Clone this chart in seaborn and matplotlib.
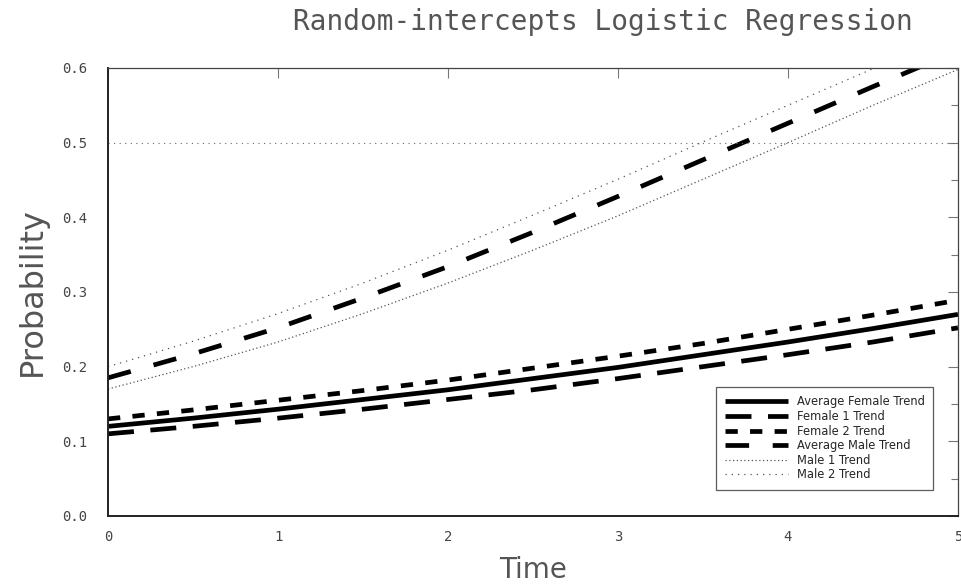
import numpy as np
import pandas as pd
import matplotlib
matplotlib.use("Agg")
import matplotlib.pyplot as plt
import seaborn as sns
from matplotlib.ticker import MultipleLocator

# Fitted probabilities at half-unit time steps
time = [0, 0.5, 1, 1.5, 2, 2.5, 3, 3.5, 4, 4.5, 5]
avg_female = [0.120, 0.131, 0.143, 0.156, 0.169, 0.184, 0.199, 0.216, 0.233, 0.251, 0.270]
female_1 = [0.110, 0.120, 0.131, 0.143, 0.156, 0.169, 0.184, 0.200, 0.216, 0.233, 0.252]
female_2 = [0.130, 0.142, 0.155, 0.168, 0.182, 0.198, 0.214, 0.231, 0.250, 0.269, 0.289]
avg_male = [0.185, 0.217, 0.252, 0.292, 0.334, 0.380, 0.428, 0.477, 0.526, 0.575, 0.623]
male_1 = [0.170, 0.200, 0.233, 0.271, 0.312, 0.356, 0.402, 0.451, 0.500, 0.550, 0.598]
male_2 = [0.200, 0.234, 0.271, 0.312, 0.356, 0.403, 0.451, 0.501, 0.550, 0.599, 0.646]
ref_x = [0, 5]
ref_y = [0.5, 0.5]

labels = ["Average Female Trend", "Female 1 Trend", "Female 2 Trend",
          "Average Male Trend", "Male 1 Trend", "Male 2 Trend"]
series = [avg_female, female_1, female_2, avg_male, male_1, male_2]

styles = [
    dict(color="black", linewidth=3.4, linestyle="-"),
    dict(color="black", linewidth=3.4, linestyle=(0, (5.5, 3.5))),
    dict(color="black", linewidth=3.4, linestyle=(0, (2.6, 2.6))),
    dict(color="black", linewidth=3.4, linestyle=(0, (5, 5))),
    dict(color="#555555", linewidth=0.9, linestyle=(0, (1, 2))),
    dict(color="#555555", linewidth=0.9, linestyle=(0, (1, 4))),
]

sns.set_theme(style="white")
plt.rcParams["font.family"] = ["DejaVu Sans Mono", "DejaVu Sans"]

fig = plt.figure(figsize=(9.62, 5.86), dpi=100)
ax = fig.add_axes([0.1123, 0.1195, 0.8835, 0.7645])

df = pd.DataFrame({"time": time})
handles = []
for lab, vals, st in zip(labels, series, styles):
    df[lab] = vals
    sns.lineplot(data=df, x="time", y=lab, ax=ax, label=lab, legend=False,
                 solid_capstyle="butt", dash_capstyle="butt", **st)
    handles.append(ax.lines[-1])

sns.lineplot(x=ref_x, y=ref_y, ax=ax, color="#666666", linewidth=0.8,
             linestyle=(0, (1, 4)), legend=False)

ax.set_xlim(0, 5)
ax.set_ylim(0, 0.6)
ax.xaxis.set_major_locator(MultipleLocator(1))
ax.yaxis.set_major_locator(MultipleLocator(0.1))
ax.yaxis.set_minor_locator(MultipleLocator(0.05))
ax.set_xticklabels([f"{int(v)}" for v in ax.get_xticks()])
ax.set_yticks(np.arange(0, 0.61, 0.1))
ax.set_yticklabels([f"{v:.1f}" for v in np.arange(0, 0.61, 0.1)])

ax.tick_params(axis="both", which="both", direction="in", top=True, right=True,
               color="#777777", labelcolor="#444444", labelsize=10)
ax.tick_params(axis="both", which="major", length=7, width=0.8)
ax.tick_params(axis="y", which="minor", length=5, width=0.8)
ax.tick_params(axis="x", pad=10)
ax.tick_params(axis="y", pad=15)

for side in ["left", "bottom"]:
    ax.spines[side].set_color("#222222")
    ax.spines[side].set_linewidth(1.4)
for side in ["top", "right"]:
    ax.spines[side].set_color("#444444")
    ax.spines[side].set_linewidth(0.9)

ax.set_xlabel("Time", fontsize=20, color="#555555", family="DejaVu Sans",
              labelpad=9)
ax.set_ylabel("Probability", fontsize=23, color="#555555", family="DejaVu Sans",
              labelpad=10)
fig.text(0.627, 0.963, "Random-intercepts Logistic Regression", ha="center",
         va="center", fontsize=20, color="#555555")

leg = ax.legend(handles=handles, labels=labels, loc="lower right",
                bbox_to_anchor=(0.9775, 0.045), frameon=True,
                fancybox=False, handlelength=5.5, labelspacing=0.14,
                borderpad=0.75, handletextpad=0.75,
                prop={"family": "DejaVu Sans", "size": 8.3})
leg.get_frame().set_edgecolor("#333333")
leg.get_frame().set_linewidth(0.9)

fig.savefig("out.png", dpi=100)
